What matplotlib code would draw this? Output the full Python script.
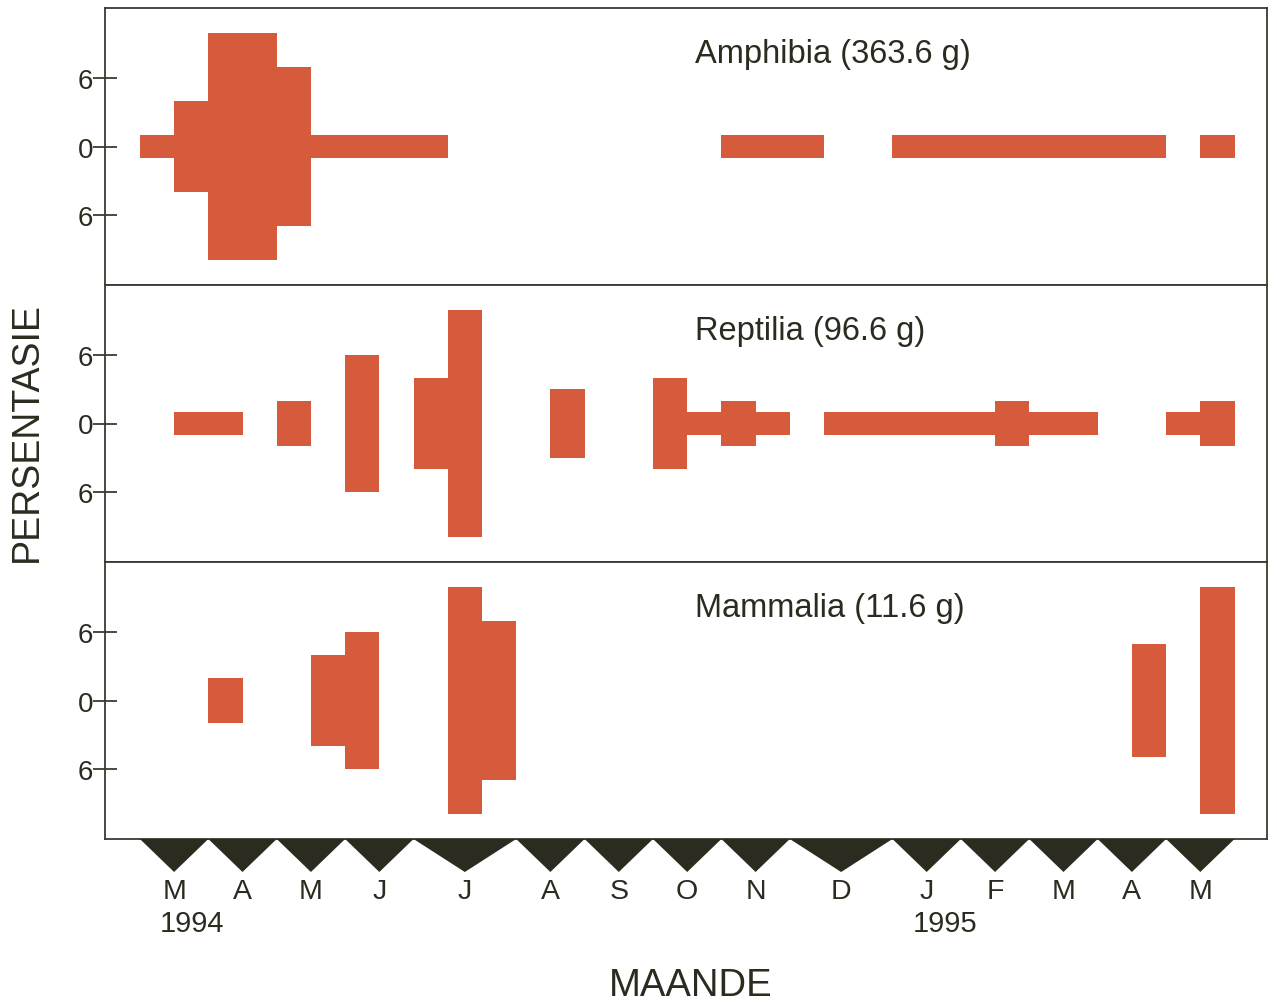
import numpy as np
import matplotlib.pyplot as plt

# half-widths of the kite per sampling column (32 columns)
amphibia = [1, 4, 10, 10, 7, 1, 1, 1, 1, 0, 0, 0, 0, 0, 0, 0,
            0, 1, 1, 1, 0, 0, 1, 1, 1, 1, 1, 1, 1, 1, 0, 1]
reptilia = [0, 1, 1, 0, 2, 0, 6, 0, 4, 10, 0, 0, 3, 0, 0, 4,
            1, 2, 1, 0, 1, 1, 1, 1, 1, 2, 1, 1, 0, 0, 1, 2]
mammalia = [0, 0, 2, 0, 0, 4, 6, 0, 0, 10, 7, 0, 0, 0, 0, 0,
            0, 0, 0, 0, 0, 0, 0, 0, 0, 0, 0, 0, 0, 5, 0, 10]
panel_labels = ['Amphibia (363.6 g)', 'Reptilia (96.6 g)', 'Mammalia (11.6 g)']

# month boundaries in column units and month letters
month_edges = [0, 2, 4, 6, 8, 11, 13, 15, 17, 19, 22, 24, 26, 28, 30, 32]
month_labels = ['M', 'A', 'M', 'J', 'J', 'A', 'S', 'O', 'N', 'D', 'J', 'F', 'M', 'A', 'M']
years = {0: '1994', 10: '1995'}

bar_color = '#d65b3d'
ink = '#2b2b20'
plt.rcParams['font.family'] = ['Liberation Sans', 'DejaVu Sans']

fig = plt.figure(figsize=(12.77, 10.03), dpi=100)
W, H = 1277, 1003
left, right = 105, 1267
tops = [9, 286, 563]
ph = 277
xlim = (-1.02, 32.95)

for top, vals, lab in zip(tops, [amphibia, reptilia, mammalia], panel_labels):
    ax = fig.add_axes([left / W, 1 - (top + ph) / H, (right - left) / W, ph / H])
    v = np.array(vals, dtype=float)
    x = np.arange(len(v))
    m = v > 0
    ax.bar(x[m], 2 * v[m], bottom=-v[m], width=1, align='edge',
           color=bar_color, linewidth=0)
    ax.set_xlim(*xlim)
    ax.set_ylim(-12.15, 12.15)
    ax.set_xticks([])
    ax.set_yticks([6, 0, -6])
    ax.set_yticklabels(['6', '0', '6'])
    ax.tick_params(axis='y', direction='inout', length=17, width=1.2,
                   color=ink, labelcolor=ink, labelsize=20, pad=0)
    for s in ax.spines.values():
        s.set_color('#3a3a30')
        s.set_linewidth(1.3)
    ax.text(0.508, 0.835, lab, transform=ax.transAxes, ha='left', va='center',
            fontsize=23.5, color=ink)

# month triangles and labels below the bottom panel
bottom = tops[-1] + ph
axm = fig.add_axes([left / W, 0, (right - left) / W, (H - bottom) / H])
axm.set_xlim(*xlim)
axm.set_ylim(H - bottom, 0)
axm.axis('off')
for i, lab in enumerate(month_labels):
    a, b = month_edges[i], month_edges[i + 1]
    mid = (a + b) / 2
    axm.fill([a, b, mid], [0, 0, 33], color=ink, linewidth=0)
    axm.text(mid, 52, lab, ha='center', va='center', fontsize=20.5, color=ink)
    if i in years:
        axm.text(mid - 0.42, 84, years[i], ha='left', va='center', fontsize=21, color=ink)

fig.text(691 / W, 1 - 986 / H, 'MAANDE', ha='center', va='center', fontsize=27.5, color=ink)
fig.text(27 / W, 1 - 432 / H, 'PERSENTASIE', ha='center', va='center', rotation=90,
         fontsize=27, color=ink)

fig.savefig('out.png', dpi=100, facecolor='white')
